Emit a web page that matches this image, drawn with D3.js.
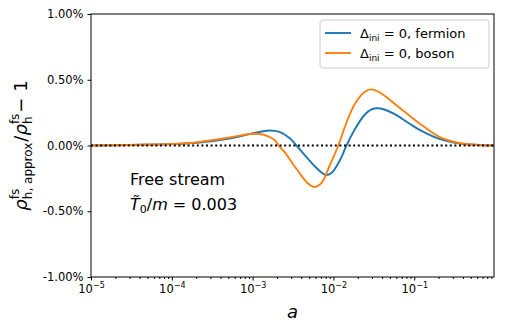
<!DOCTYPE html>
<html>
<head>
<meta charset="utf-8">
<script src="https://cdn.jsdelivr.net/npm/d3@7"></script>
<style>
  body { margin: 0; background: #fff; }
  text { font-family: "DejaVu Sans", sans-serif; fill: #000; }
</style>
</head>
<body>
<div id="chart"></div>
<script>
// values (a, percent)
var aFermion = [1e-5, 3.0e-5, 1e-4, 2.2e-4, 5.2e-4, 9.2e-4, 1.29e-3, 1.62e-3, 2.15e-3, 2.86e-3,
                3.49e-3, 4.39e-3, 5.82e-3, 7.11e-3, 7.96e-3, 9.45e-3, 1.19e-2, 1.45e-2, 1.82e-2,
                2.42e-2, 2.95e-2, 3.49e-2, 4.26e-2, 5.66e-2, 8.68e-2, 0.115, 0.204, 0.36, 0.634, 0.97];
var fermion = [0, 0.004, 0.011, 0.023, 0.053, 0.087, 0.106, 0.114, 0.103, 0.057,
               0, -0.072, -0.156, -0.205, -0.224, -0.209, -0.118, 0, 0.118,
               0.232, 0.274, 0.283, 0.274, 0.240, 0.167, 0.121, 0.050, 0.015, 0.004, 0];

var aBoson = [1e-5, 3.0e-5, 1e-4, 2.2e-4, 5.2e-4, 9.2e-4, 1.22e-3, 1.53e-3, 1.87e-3, 2.09e-3,
              2.48e-3, 2.86e-3, 3.80e-3, 4.78e-3, 5.82e-3, 7.11e-3, 8.93e-3, 1.15e-2, 1.49e-2,
              1.87e-2, 2.42e-2, 2.95e-2, 3.70e-2, 4.91e-2, 7.53e-2, 0.115, 0.204, 0.36, 0.634, 0.97];
var boson = [0, 0.004, 0.011, 0.027, 0.061, 0.087, 0.087, 0.072, 0.042, 0,
             -0.049, -0.103, -0.209, -0.285, -0.316, -0.285, -0.156, 0, 0.194,
             0.323, 0.407, 0.427, 0.405, 0.350, 0.258, 0.170, 0.066, 0.019, 0.004, 0];

var xMajor = [1e-5, 1e-4, 1e-3, 1e-2, 1e-1];
var xMajorExp = ['\u22125', '\u22124', '\u22123', '\u22122', '\u22121'];
var yTicks = [1, 0.5, 0, -0.5, -1];
var yTickLabels = ['1.00%', '0.50%', '0.00%', '-0.50%', '-1.00%'];

var width = 505, height = 331;
var plotL = 91, plotR = 494, plotT = 14, plotB = 277;

var svg = d3.select('#chart').append('svg')
  .attr('width', width)
  .attr('height', height);

var x = d3.scaleLog().domain([1e-5, 0.97]).range([plotL, plotR]);
var y = d3.scaleLinear().domain([-1, 1]).range([plotB, plotT]);

// minor ticks on the log axis
var minors = [];
[1e-5, 1e-4, 1e-3, 1e-2, 1e-1].forEach(function(d) {
  for (var k = 2; k <= 9; k++) {
    if (d * k <= 0.97) minors.push(d * k);
  }
});

svg.append('g')
  .attr('transform', 'translate(0,' + plotB + ')')
  .call(d3.axisBottom(x).tickValues(minors).tickSize(2).tickFormat(''))
  .call(function(g) { g.select('.domain').remove(); });

var xAxis = svg.append('g')
  .attr('transform', 'translate(0,' + plotB + ')')
  .call(d3.axisBottom(x).tickValues(xMajor).tickSize(3.5).tickFormat(''));
xAxis.select('.domain').remove();
xAxis.selectAll('.tick').each(function(d, i) {
  var t = d3.select(this).append('text')
    .attr('y', 16)
    .attr('text-anchor', 'middle')
    .style('font-size', '11.5px');
  t.append('tspan').text('10');
  t.append('tspan').attr('dy', -5).style('font-size', '8px').text(xMajorExp[i]);
});

var yAxis = svg.append('g')
  .attr('transform', 'translate(' + plotL + ',0)')
  .call(d3.axisLeft(y).tickValues(yTicks).tickSize(3.5).tickPadding(4)
    .tickFormat(function(d, i) { return yTickLabels[i]; }));
yAxis.select('.domain').remove();
yAxis.selectAll('text')
  .style('font-size', '11.5px')
  .style('font-family', '"DejaVu Sans", sans-serif');

// curves
var line = d3.line()
  .x(function(d) { return x(d[0]); })
  .y(function(d) { return y(d[1]); })
  .curve(d3.curveCatmullRom.alpha(0.5));

svg.append('path')
  .datum(d3.zip(aFermion, fermion))
  .attr('d', line)
  .attr('fill', 'none')
  .attr('stroke', '#1f77b4')
  .attr('stroke-width', 1.9);

svg.append('path')
  .datum(d3.zip(aBoson, boson))
  .attr('d', line)
  .attr('fill', 'none')
  .attr('stroke', '#ff7f0e')
  .attr('stroke-width', 1.9);

// zero reference line
svg.append('line')
  .attr('x1', plotL).attr('x2', plotR)
  .attr('y1', y(0)).attr('y2', y(0))
  .attr('stroke', '#000')
  .attr('stroke-width', 2)
  .attr('stroke-dasharray', '2,2.6');

// frame
svg.append('rect')
  .attr('x', plotL).attr('y', plotT)
  .attr('width', plotR - plotL).attr('height', plotB - plotT)
  .attr('fill', 'none')
  .attr('stroke', '#000')
  .attr('stroke-width', 1);

// legend
var lg = svg.append('g');
lg.append('rect')
  .attr('x', 320).attr('y', 20).attr('width', 169).attr('height', 48)
  .attr('rx', 3)
  .attr('fill', '#fff').attr('fill-opacity', 0.8)
  .attr('stroke', '#ccc');
var legendNames = ['fermion', 'boson'];
var legendColors = ['#1f77b4', '#ff7f0e'];
legendNames.forEach(function(name, i) {
  var yy = 33 + i * 20;
  lg.append('line')
    .attr('x1', 325).attr('x2', 351)
    .attr('y1', yy).attr('y2', yy)
    .attr('stroke', legendColors[i]).attr('stroke-width', 1.9);
  var t = lg.append('text')
    .attr('x', 360).attr('y', yy + 4.5)
    .style('font-size', '13px');
  t.append('tspan').text('\u0394');
  t.append('tspan').attr('dy', 3).style('font-size', '9px').text('ini');
  t.append('tspan').attr('dy', -3).text(' = 0, ' + name);
});

// annotation
svg.append('text')
  .attr('x', 130).attr('y', 185)
  .style('font-size', '16px')
  .text('Free stream');
var ann = svg.append('text')
  .attr('x', 130).attr('y', 210)
  .style('font-size', '16px');
ann.append('tspan').style('font-style', 'italic').text('T\u0303');
ann.append('tspan').attr('dy', 3).style('font-size', '11px').text('0');
ann.append('tspan').attr('dy', -3).text('/');
ann.append('tspan').style('font-style', 'italic').text('m');
ann.append('tspan').text(' = 0.003');

// x label
svg.append('text')
  .attr('x', (plotL + plotR) / 2).attr('y', 318)
  .attr('text-anchor', 'middle')
  .style('font-size', '18px')
  .style('font-style', 'italic')
  .text('a');

// y label, built piece by piece so the scripts stack like mathtext
var yl = svg.append('g');
var cx = 0;
function piece(str, size, dy, italic) {
  var t = yl.append('text')
    .attr('x', cx).attr('y', dy)
    .style('font-size', size + 'px')
    .style('font-style', italic ? 'italic' : 'normal')
    .text(str);
  return t.node().getComputedTextLength();
}
function scripts(sup, sub) {
  var w1 = piece(sup, 12, -8, false);
  var w2 = piece(sub, 12, 5, false);
  cx += Math.max(w1, w2) + 1;
}
cx += piece('\u03c1', 18, 0, true);
scripts('fs', 'h, approx');
cx += piece('/', 18, 0, false);
cx += piece('\u03c1', 18, 0, true);
scripts('fs', 'h');
cx += piece(' \u2212 1', 18, 0, false);
yl.attr('transform', 'translate(27,' + ((plotT + plotB) / 2 + cx / 2) + ') rotate(-90)');
</script>
</body>
</html>
